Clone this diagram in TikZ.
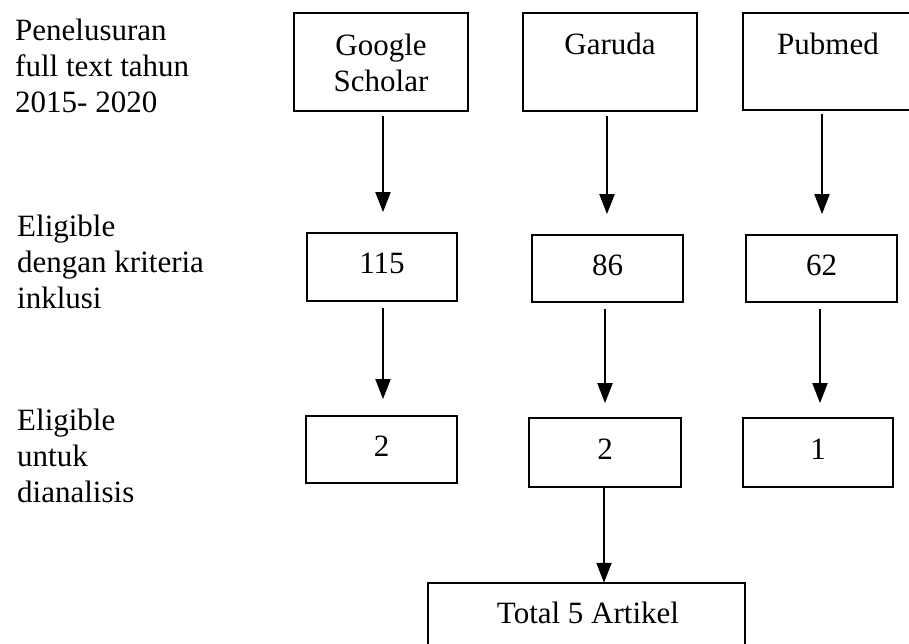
\documentclass[tikz,border=0pt]{standalone}
\usepackage{fontspec}
\setmainfont{Liberation Serif}
\usetikzlibrary{arrows.meta}
\begin{document}
\begin{tikzpicture}[x=1pt,y=-1pt,
  box/.style={draw, line width=1.8pt, inner sep=0pt},
  openbox/.style={draw=none, inner sep=0pt},
  edge line/.style={line width=1.8pt},
  txt/.style={anchor=base, inner sep=0pt, font=\fontsize{31}{36}\selectfont},
  mtxt/.style={anchor=north, inner sep=0pt, align=center, font=\fontsize{31}{36}\selectfont},
  lbl/.style={anchor=north west, inner sep=0pt, align=left, font=\fontsize{31}{36}\selectfont},
  arr/.style={line width=2pt, -{Triangle[length=20pt,width=15pt]}}]
\useasboundingbox (0,0) rectangle (909,644);
\clip (0,0) rectangle (909,644);

% left labels
\node[lbl] (l1) at (15,14.8) {\strut Penelusuran\\full text tahun\\2015- 2020};
\node[lbl] (l2) at (17,210.8) {\strut Eligible\\dengan kriteria\\inklusi};
\node[lbl] (l3) at (17,404.8) {\strut Eligible\\untuk\\dianalisis};

% row 1
\node[box, minimum width=174pt, minimum height=98pt] (gs) at (381,62) {};
\node[box, minimum width=174pt, minimum height=98pt] (gar) at (610,62) {};
\node[openbox, minimum width=170pt, minimum height=97pt] (pub) at (828,61.5) {};
\draw[edge line] (pub.north east) -- (pub.north west) -- (pub.south west) -- (pub.south east);
\node[mtxt] (tgs) at (381,29.8) {\strut Google\\Scholar};
\node[txt] (tgar) at (610,55) {Garuda};
\node[txt] (tpub) at (828,55) {Pubmed};

% row 2
\node[box, minimum width=150pt, minimum height=68pt] (n115) at (382,267) {};
\node[box, minimum width=151pt, minimum height=67pt] (n86) at (607.5,268.5) {};
\node[box, minimum width=151pt, minimum height=67pt] (n62) at (821.5,268.5) {};
\node[txt] (t115) at (382,273) {115};
\node[txt] (t86) at (607.5,275) {86};
\node[txt] (t62) at (821.5,275) {62};

% row 3
\node[box, minimum width=151pt, minimum height=67pt] (b2a) at (381.5,449.5) {};
\node[box, minimum width=152pt, minimum height=69pt] (b2b) at (605,452.5) {};
\node[box, minimum width=150pt, minimum height=69pt] (b1) at (818,452.5) {};
\node[txt] (t2a) at (381.5,456) {2};
\node[txt] (t2b) at (605,459) {2};
\node[txt] (t1) at (818,459) {1};

% total (bottom edge lies outside the picture)
\node[openbox, minimum width=317pt, minimum height=70pt] (tot) at (586.5,618) {};
\draw[edge line] (tot.south west) -- (tot.north west) -- (tot.north east) -- (tot.south east);
\node[txt] (ttot) at (588,623) {Total 5 Artikel};

% arrows
\draw[arr, shorten <=4pt, shorten >=20pt] ([xshift=2pt]gs.south) -- ([xshift=1pt]n115.north);
\draw[arr, shorten <=4pt, shorten >=20pt] ([xshift=-3pt]gar.south) -- ([xshift=-0.5pt]n86.north);
\draw[arr, shorten <=4pt, shorten >=20pt] ([xshift=-6pt]pub.south) -- ([xshift=0.5pt]n62.north);
\draw[arr, shorten <=6pt, shorten >=16pt] ([xshift=1pt]n115.south) -- ([xshift=1.5pt]b2a.north);
\draw[arr, shorten <=6pt, shorten >=14pt] ([xshift=-2.5pt]n86.south) -- (b2b.north);
\draw[arr, shorten <=6pt, shorten >=14pt] ([xshift=-1.5pt]n62.south) -- ([xshift=2pt]b1.north);
\draw[arr] ([xshift=-1pt]b2b.south) -- ([xshift=17.5pt]tot.north);
\end{tikzpicture}
\end{document}
